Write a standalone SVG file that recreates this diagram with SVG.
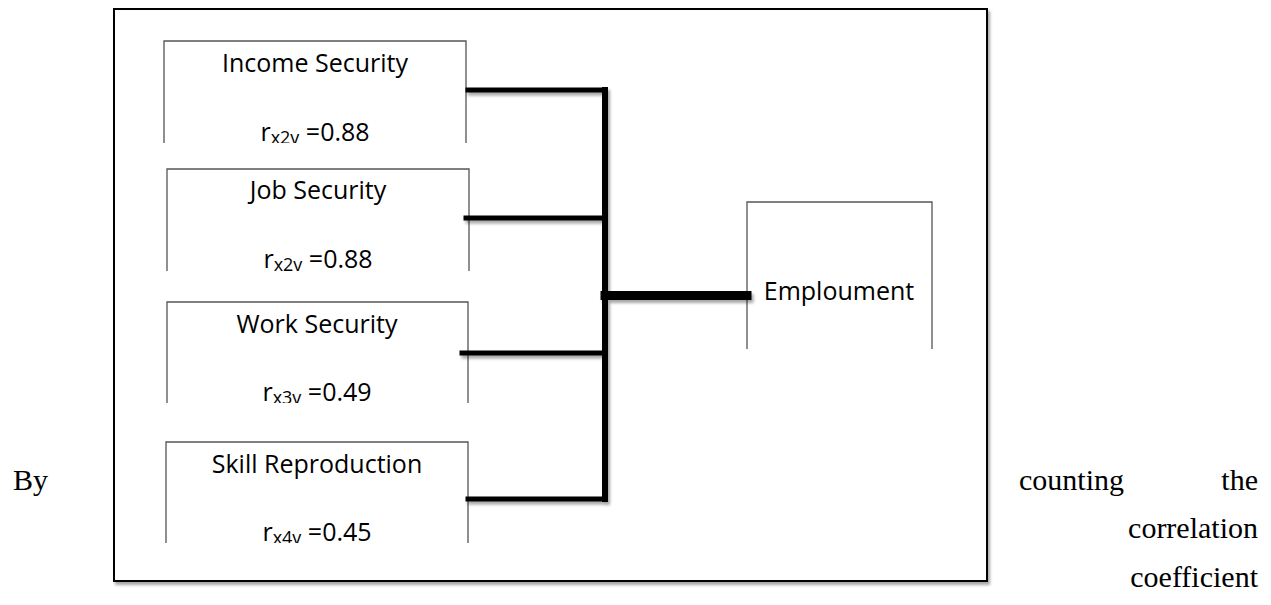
<svg xmlns="http://www.w3.org/2000/svg" width="1271" height="605" viewBox="0 0 1271 605">
<style>
.box{fill:none;stroke:#555;stroke-width:1.3}
.lbl{font-family:"Open Sans","Liberation Sans",sans-serif;font-size:25px;fill:#000;text-anchor:middle}
.sub{font-size:18px}
.body{font-family:"Liberation Serif","Times New Roman",serif;font-size:30px;fill:#000}
.conn{stroke:#000;stroke-linecap:square;fill:none}
</style>
<defs>
<filter id="sh" x="-10%" y="-10%" width="130%" height="130%">
<feDropShadow dx="2" dy="3" stdDeviation="1.5" flood-color="#000" flood-opacity="0.35"/>
</filter>
<clipPath id="c1"><rect x="160" y="30" width="312" height="113"/></clipPath>
<clipPath id="c2"><rect x="160" y="160" width="312" height="111"/></clipPath>
<clipPath id="c3"><rect x="160" y="295" width="312" height="108"/></clipPath>
<clipPath id="c4"><rect x="160" y="435" width="312" height="108"/></clipPath>
<clipPath id="c5"><rect x="740" y="195" width="200" height="154"/></clipPath>
</defs>
<rect width="1271" height="605" fill="#fff"/>
<g id="frame">
<rect x="114" y="9" width="873" height="572" fill="#fff" stroke="#000" stroke-width="2" filter="url(#sh)"/>
</g>
<g id="income-security">
<path class="box" d="M164 143 V41 H466 V143"/>
<g clip-path="url(#c1)">
<text class="lbl" x="315" y="72">Income Security</text>
<text class="lbl" x="315" y="141">r<tspan class="sub" dy="3">x2v</tspan><tspan dy="-3"> =0.88</tspan></text>
</g>
</g>
<g id="job-security">
<path class="box" d="M167 271 V169 H469 V271"/>
<g clip-path="url(#c2)">
<text class="lbl" x="318" y="199">Job Security</text>
<text class="lbl" x="318" y="268">r<tspan class="sub" dy="3">x2v</tspan><tspan dy="-3"> =0.88</tspan></text>
</g>
</g>
<g id="work-security">
<path class="box" d="M167 403 V302 H468 V403"/>
<g clip-path="url(#c3)">
<text class="lbl" x="317" y="333">Work Security</text>
<text class="lbl" x="317" y="401">r<tspan class="sub" dy="3">x3v</tspan><tspan dy="-3"> =0.49</tspan></text>
</g>
</g>
<g id="skill-reproduction">
<path class="box" d="M166 543 V442 H468 V543"/>
<g clip-path="url(#c4)">
<text class="lbl" x="317" y="473">Skill Reproduction</text>
<text class="lbl" x="317" y="541">r<tspan class="sub" dy="3">x4v</tspan><tspan dy="-3"> =0.45</tspan></text>
</g>
</g>
<g id="employment">
<path class="box" d="M747 349 V202 H932 V349"/>
<g clip-path="url(#c5)">
<text class="lbl" x="839" y="300">Emploument</text>
</g>
</g>
<g id="connectors" filter="url(#sh)">
<path class="conn" stroke-width="6" d="M605 90 V499"/>
<path class="conn" stroke-width="5" d="M468 90 H605"/>
<path class="conn" stroke-width="5" d="M466 218 H605"/>
<path class="conn" stroke-width="5" d="M462 353 H605"/>
<path class="conn" stroke-width="5" d="M468 499 H605"/>
<path class="conn" stroke-width="9" stroke-linecap="butt" d="M605 295.5 H747"/>
</g>
<g id="body-text">
<text class="body" x="13" y="490">By</text>
<text class="body" x="1019" y="490">counting</text>
<text class="body" x="1258" y="490" text-anchor="end">the</text>
<text class="body" x="1258" y="538" text-anchor="end">correlation</text>
<text class="body" x="1258" y="587" text-anchor="end">coefficient</text>
</g>
</svg>
